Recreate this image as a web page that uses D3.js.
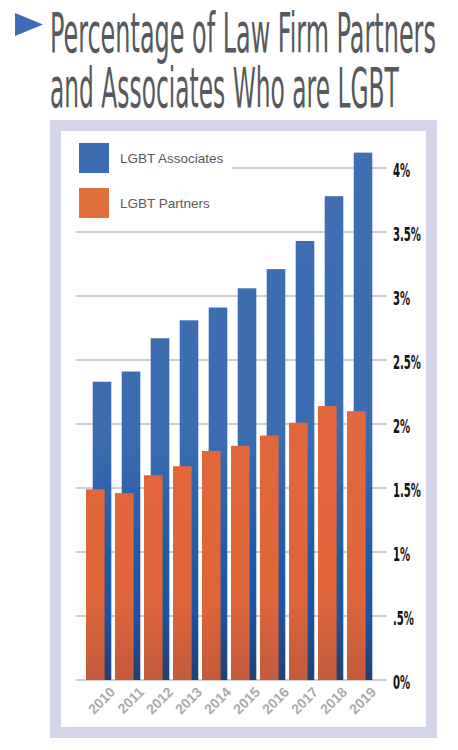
<!DOCTYPE html>
<html>
<head>
<meta charset="utf-8">
<script src="https://cdn.jsdelivr.net/npm/d3@7"></script>
<style>
  html, body { margin: 0; padding: 0; background: #fff; }
  svg { display: block; }
</style>
</head>
<body>
<svg id="chart" width="458" height="750"></svg>
<script>
// ---- data ----
const years = ["2010","2011","2012","2013","2014","2015","2016","2017","2018","2019"];
const associates = [2.33, 2.41, 2.67, 2.81, 2.91, 3.06, 3.21, 3.43, 3.78, 4.12];
const partners   = [1.49, 1.46, 1.60, 1.67, 1.79, 1.83, 1.91, 2.01, 2.14, 2.10];
const yTicks = [0, 0.5, 1, 1.5, 2, 2.5, 3, 3.5, 4];
const yTickLabels = ["0%", ".5%", "1%", "1.5%", "2%", "2.5%", "3%", "3.5%", "4%"];
const seriesNames = ["LGBT Associates", "LGBT Partners"];
const titleLines = ["Percentage of Law Firm Partners", "and Associates Who are LGBT"];

const svg = d3.select("#chart");
const defs = svg.append("defs");

// gradients (absolute y)
const gB = defs.append("linearGradient").attr("id","gBlue")
  .attr("gradientUnits","userSpaceOnUse").attr("x1",0).attr("x2",0).attr("y1",150).attr("y2",680);
[[0,"#4070b2"],[0.55,"#3b6bb0"],[0.78,"#1e5aa6"],[0.88,"#1d53a0"],[1,"#233f70"]]
  .forEach(s => gB.append("stop").attr("offset",s[0]).attr("stop-color",s[1]));
const gO = defs.append("linearGradient").attr("id","gOrange")
  .attr("gradientUnits","userSpaceOnUse").attr("x1",0).attr("x2",0).attr("y1",400).attr("y2",680);
[[0,"#e2683a"],[0.7,"#e0663a"],[1,"#c25b3c"]]
  .forEach(s => gO.append("stop").attr("offset",s[0]).attr("stop-color",s[1]));

// helper: squeeze a text horizontally to a given width
function fitWidth(sel, x0, yBase, targetW) {
  const w = sel.node().getComputedTextLength();
  sel.attr("x", 0).attr("y", 0)
     .attr("transform", `translate(${x0},${yBase}) scale(${targetW / w},1)`);
}

// ---- title ----
svg.append("path").attr("d","M15,13 L15,36 L43,24.5 Z").attr("fill","#3d6cb5");
const titleFont = "'DejaVu Sans Condensed','DejaVu Sans',sans-serif";
const t1 = svg.append("text").text(titleLines[0])
  .attr("font-family",titleFont).attr("font-size",56).attr("fill","#55595d");
fitWidth(t1, 50, 52, 386);
const t2 = svg.append("text").text(titleLines[1])
  .attr("font-family",titleFont).attr("font-size",56).attr("fill","#55595d");
fitWidth(t2, 50, 107, 349);

// ---- frame ----
svg.append("rect").attr("x",50).attr("y",120).attr("width",387).attr("height",618).attr("fill","#d4d5e8");
svg.append("rect").attr("x",61).attr("y",131).attr("width",365).attr("height",596).attr("fill","#ffffff");

// ---- scales ----
const x = d3.scaleBand().domain(years).range([81, 371]).padding(0);
const y = d3.scaleLinear().domain([0, 4]).range([680, 168]);

// gridlines
svg.append("g").selectAll("line").data(yTicks).join("line")
  .attr("x1", d => d === 4 ? 232 : 76).attr("x2", 387)
  .attr("y1", d => y(d)).attr("y2", d => y(d))
  .attr("stroke","#cfcfcf").attr("stroke-width",2);

// y axis labels (right)
const yAxis = d3.axisRight(y).tickValues(yTicks).tickSize(0).tickPadding(0)
  .tickFormat((d,i) => yTickLabels[i]);
const ya = svg.append("g").attr("transform","translate(393,0)").call(yAxis);
ya.select(".domain").remove();
const yl = ya.selectAll("text")
  .attr("font-family","'DejaVu Sans Condensed','DejaVu Sans',sans-serif")
  .attr("font-weight","bold").attr("font-size",20).attr("fill","#111")
  .attr("dy","0.4em");
// squeeze tick labels (condensed look): "3.5%" should be ~28px wide
let refW = 0;
yl.each(function(d,i){ if (yTickLabels[i] === "3.5%") refW = this.getComputedTextLength(); });
const sxY = refW ? 28 / refW : 0.7;
yl.attr("transform", `scale(${sxY},1)`);

// bars
const bw = 18.6;
svg.append("g").selectAll("rect").data(years).join("rect")
  .attr("x", (d) => x(d) + 11.7).attr("width", bw)
  .attr("y", (d,i) => y(associates[i])).attr("height", (d,i) => y(0) - y(associates[i]))
  .attr("fill","url(#gBlue)");
svg.append("g").selectAll("rect").data(years).join("rect")
  .attr("x", (d) => x(d) + 5).attr("width", bw)
  .attr("y", (d,i) => y(partners[i])).attr("height", (d,i) => y(0) - y(partners[i]))
  .attr("fill","url(#gOrange)");

// x labels
svg.append("g").selectAll("text").data(years).join("text")
  .attr("transform", d => `translate(${x(d)+28},${686}) rotate(-45)`)
  .attr("text-anchor","end").attr("dy","0.7em")
  .attr("font-family","'Liberation Sans',Arial,sans-serif").attr("font-weight","bold")
  .attr("font-size",14).attr("fill","#ababab")
  .text(d => d);

// legend
const legColors = ["#3b6cb2", "#e2703c"];
const leg = svg.append("g");
seriesNames.forEach((name, i) => {
  const ly = 143 + i * 45;
  leg.append("rect").attr("x",79).attr("y",ly).attr("width",30).attr("height",30)
    .attr("fill",legColors[i]);
  leg.append("text").attr("x",120).attr("y",ly+15).attr("dy","0.35em").text(name)
    .attr("font-family","'Liberation Sans',Arial,sans-serif").attr("font-size",13.5)
    .attr("fill","#5a5a5a");
});
</script>
</body>
</html>
